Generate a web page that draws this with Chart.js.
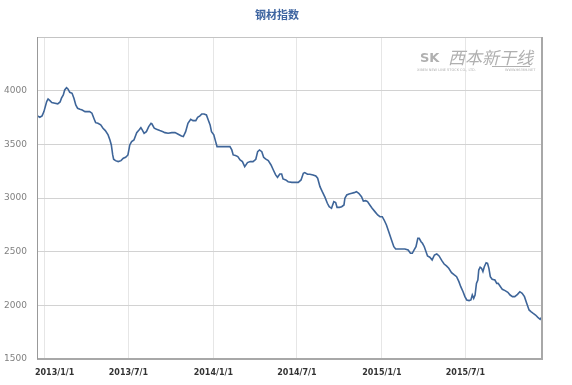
<!DOCTYPE html>
<html>
<head>
<meta charset="utf-8">
<script src="https://cdn.jsdelivr.net/npm/chart.js@4"></script>
<style>
html,body{margin:0;padding:0;background:#fff;}
#wrap{width:572px;height:385px;position:relative;}
</style>
</head>
<body>
<div id="wrap"><canvas id="c" width="572" height="385"></canvas></div>
<script>
// x values: days since 2013-01-01
const dayOffsets = [-16,-11,-6,-2,4,7,11,15,22,28,33,36,40,43,47,50,54,59,63,67,71,76,81,87,92,97,102,107,110,115,121,126,131,137,141,144,147,149,153,159,165,170,175,180,184,188,193,199,204,208,211,215,220,225,230,232,237,242,249,256,260,267,275,282,289,296,300,305,310,316,321,327,331,336,340,345,350,354,358,361,366,370,373,379,390,401,405,408,413,418,423,428,433,439,445,451,457,461,465,470,474,478,484,490,495,500,504,509,513,516,522,527,535,543,549,555,560,563,569,574,581,587,591,596,601,607,612,616,621,626,630,633,638,643,648,650,654,659,665,670,675,680,686,690,695,699,704,709,715,721,726,731,735,740,745,751,756,760,769,780,787,792,796,800,804,808,811,815,818,822,829,834,839,844,849,854,860,865,870,875,881,887,892,897,901,906,910,914,919,923,926,929,932,935,938,940,943,946,949,952,956,959,962,965,969,975,979,982,986,991,997,1003,1008,1013,1018,1024,1029,1034,1039,1044,1049,1053,1058,1063,1068,1073,1076];
const steelIndex = [3765,3752,3765,3805,3898,3923,3907,3889,3883,3877,3895,3930,3960,4007,4028,4016,3985,3976,3930,3867,3836,3827,3820,3805,3805,3805,3790,3734,3702,3696,3681,3650,3628,3588,3541,3494,3401,3361,3348,3339,3348,3370,3380,3401,3494,3525,3541,3609,3634,3655,3634,3603,3618,3665,3696,3690,3650,3640,3628,3618,3609,3603,3609,3609,3594,3578,3572,3618,3696,3734,3721,3721,3752,3765,3783,3783,3774,3727,3681,3618,3588,3525,3479,3479,3479,3479,3448,3401,3395,3386,3355,3339,3292,3330,3339,3339,3361,3432,3448,3432,3380,3364,3348,3308,3261,3215,3193,3224,3224,3177,3168,3152,3146,3146,3146,3168,3230,3237,3221,3221,3215,3205,3184,3106,3059,3006,2951,2919,2904,2966,2957,2913,2913,2919,2935,2998,3028,3037,3044,3050,3059,3044,3012,2972,2975,2966,2935,2904,2873,2842,2826,2826,2795,2749,2686,2609,2546,2525,2525,2525,2516,2485,2485,2516,2546,2625,2625,2593,2578,2546,2460,2448,2423,2469,2479,2460,2416,2385,2367,2345,2305,2283,2267,2221,2174,2127,2081,2050,2044,2050,2096,2065,2096,2205,2236,2329,2355,2345,2314,2360,2397,2391,2345,2267,2243,2236,2205,2205,2180,2149,2137,2121,2096,2081,2081,2102,2127,2112,2081,2018,1957,1941,1925,1910,1888,1870,1888];
const tickDays = [0,181,365,546,730,911];
const tickLabels = ['2013/1/1','2013/7/1','2014/1/1','2014/7/1','2015/1/1','2015/7/1'];
const yTicks = [1500,2000,2500,3000,3500,4000];
const titleText = '钢材指数';

const points = dayOffsets.map((d,i)=>({x:d,y:steelIndex[i]}));

const decor = {
  id:'decor',
  beforeDatasetsDraw(chart){
    const {ctx} = chart;
    ctx.save();
    ctx.fillStyle='#b0b0b0';
    ctx.font='italic 17px "Noto Sans CJK SC"';
    ctx.textBaseline='alphabetic';
    ctx.fillText('西本新干线', 448, 64);
    ctx.strokeStyle='#b0b0b0';ctx.lineWidth=1;
    ctx.beginPath();ctx.moveTo(492,66.5);ctx.lineTo(530,66.5);ctx.stroke();
    ctx.font='bold 13px "DejaVu Sans"';
    ctx.fillText('SK', 420, 62);
    ctx.font='3.5px "DejaVu Sans"';
    ctx.fillText('XIBEN NEW LINE STOCK CO., LTD.', 417, 71);
    ctx.fillText('WWW.96369.NET', 505, 71);
    ctx.restore();
  },
  afterDraw(chart){
    const {ctx, chartArea:a} = chart;
    ctx.save();
    ctx.strokeStyle='#c4c4c4';ctx.lineWidth=1;
    ctx.strokeRect(a.left+0.5,a.top+0.5,a.right-a.left-1,a.bottom-a.top-1);
    ctx.strokeStyle='#a8a8a8';ctx.lineWidth=2;
    ctx.beginPath();
    ctx.moveTo(a.left,a.bottom);ctx.lineTo(a.right,a.bottom);ctx.lineTo(a.right,a.top);
    ctx.stroke();
    ctx.strokeStyle='#999';ctx.lineWidth=1;
    ctx.beginPath();ctx.moveTo(a.left+0.5,a.top);ctx.lineTo(a.left+0.5,a.bottom);ctx.stroke();
    ctx.fillStyle='#3d64a0';
    ctx.font='bold 11px "Noto Sans CJK SC"';
    ctx.textAlign='center';ctx.textBaseline='middle';
    ctx.fillText(titleText, 277, 15);
    ctx.restore();
  }
};

new Chart(document.getElementById('c'),{
  type:'line',
  data:{datasets:[{data:points,borderColor:'#3e6599',borderWidth:1.6,pointRadius:0,tension:0,fill:false}]},
  options:{
    responsive:false,animation:false,
    layout:{padding:{top:37,right:30,left:0,bottom:0}},
    plugins:{legend:{display:false},tooltip:{enabled:false},title:{display:false}},
    scales:{
      x:{type:'linear',min:-17,max:1077,
        afterBuildTicks(s){s.ticks=tickDays.map(v=>({value:v}));},
        afterFit(s){s.height=26;},
        grid:{color:'#e6e6e6',drawTicks:false},
        border:{display:false},
        ticks:{padding:9,maxRotation:0,autoSkip:false,color:'#333',font:{size:8,weight:'bold',family:'"DejaVu Sans"'},
          callback:(v)=>{const i=tickDays.indexOf(v);if(i<0)return '';return i===0?'       '+tickLabels[i]:tickLabels[i];}}
      },
      y:{type:'linear',min:1500,max:4500,
        afterBuildTicks(s){s.ticks=yTicks.concat([4500]).map(v=>({value:v}));},
        afterFit(s){s.width=37;},
        grid:{color:'#d2d2d2',drawTicks:false},
        border:{display:false},
        ticks:{padding:10,color:'#808080',font:{size:9,family:'"DejaVu Sans"'},
          callback:(v)=>yTicks.includes(v)?String(v):''}
      }
    }
  },
  plugins:[decor]
});
</script>
</body>
</html>
